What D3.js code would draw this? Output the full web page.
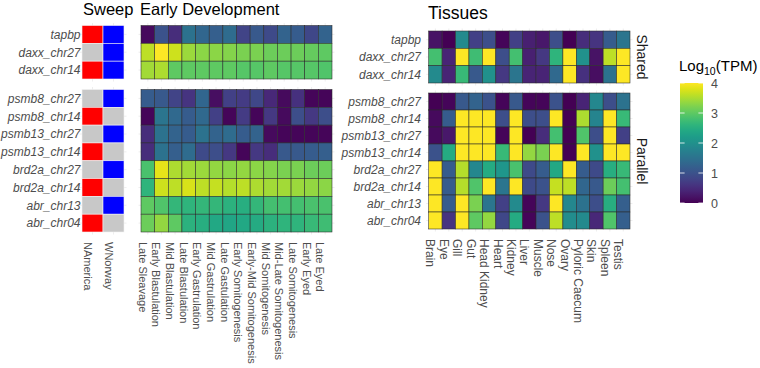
<!DOCTYPE html>
<html>
<head>
<meta charset="utf-8">
<script src="https://cdn.jsdelivr.net/npm/d3@7"></script>
<style>
  html, body { margin: 0; padding: 0; background: #fff; }
  svg { display: block; font-family: "Liberation Sans", Arial, sans-serif; }
</style>
</head>
<body>
<svg id="chart" width="760" height="368"></svg>
<script>
// ---------------- data ----------------
const rowsShared = ["tapbp", "daxx_chr27", "daxx_chr14"];
const rowsParallel = ["psmb8_chr27", "psmb8_chr14", "psmb13_chr27", "psmb13_chr14",
  "brd2a_chr27", "brd2a_chr14", "abr_chr13", "abr_chr04"];
const sweepCols = ["NAmerica", "WNorway"];
// 1 = sweep detected, 0 = none (rows: shared then parallel)
const sweepNAmerica = [1, 0, 1, 0, 1, 0, 1, 0, 1, 0, 1];
const sweepWNorway  = [1, 1, 1, 1, 0, 1, 0, 1, 0, 1, 0];

const devStages = ["Late Sleavage", "Early Blastulation", "Mid Blastulation", "Late Blastulation",
  "Early Gastrulation", "Mid Gastrulation", "Late Gastulation", "Early Somitogenesis",
  "Early-Mid Somitogenesis", "Mid Somitogenesis", "Mid-Late Somitogenesis",
  "Late Somitogenesis", "Early Eyed", "Late Eyed"];
const devTapbp      = [0.1, 1.0, 0.5, 1.5, 1.3, 1.2, 1.4, 0.8, 1.1, 0.9, 1.25, 1.15, 0.85, 1.25];
const devDaxx27     = [3.6, 4.0, 3.7, 3.4, 3.3, 3.3, 3.25, 3.2, 3.2, 3.1, 3.1, 3.1, 3.05, 3.0];
const devDaxx14     = [3.45, 3.5, 3.0, 3.0, 3.0, 3.0, 3.0, 2.95, 2.95, 3.0, 2.95, 2.95, 2.95, 2.9];
const devPsmb8_27   = [1.15, 1.1, 0.8, 0.6, 1.3, 0.15, 0.75, 0.7, 0.85, 0.45, 0.1, 0.55, 0.05, 0.05];
const devPsmb8_14   = [0.05, 1.55, 1.35, 1.15, 1.35, 0.75, 0.05, 0.7, 0.05, 0.65, 0.1, 0.95, 0.65, 0.95];
const devPsmb13_27  = [0.5, 1.5, 1.25, 1.15, 1.5, 1.25, 1.4, 1.15, 1.25, 0.1, 0.05, 0.05, 0.05, 0.05];
const devPsmb13_14  = [0.5, 1.5, 1.2, 1.4, 0.9, 0.95, 0.65, 0.05, 0.65, 0.5, 1.1, 1.1, 1.15, 1.2];
const devBrd2a27    = [2.85, 3.85, 3.5, 3.45, 3.4, 3.35, 3.3, 3.35, 3.3, 3.25, 3.2, 3.2, 3.1, 3.1];
const devBrd2a14    = [2.6, 3.7, 3.6, 3.75, 3.6, 3.65, 3.55, 3.6, 3.5, 3.45, 3.45, 3.4, 3.35, 3.3];
const devAbr13      = [3.0, 2.9, 2.65, 2.6, 2.65, 2.65, 2.55, 2.5, 2.65, 2.8, 2.8, 2.8, 2.85, 2.85];
const devAbr04      = [3.1, 3.35, 3.0, 2.55, 2.5, 2.4, 2.35, 2.4, 2.45, 2.55, 2.6, 2.6, 2.7, 2.75];

const tissues = ["Brain", "Eye", "Gill", "Gut", "Head Kidney", "Heart", "Kidney", "Liver",
  "Muscle", "Nose", "Ovary", "Pyloric Caecum", "Skin", "Spleen", "Testis"];
const tisTapbp     = [0.2, 0.0, 1.9, 0.75, 0.95, 0.05, 0.75, 0.35, 0.25, 0.95, 0.0, 0.5, 0.6, 1.15, 1.55];
const tisDaxx27    = [2.8, 0.4, 4.2, 2.75, 4.2, 0.95, 2.8, 0.35, 0.65, 2.6, 4.2, 2.0, 0.2, 3.6, 4.2];
const tisDaxx14    = [1.9, 0.4, 2.7, 1.1, 2.0, 0.65, 1.55, 0.4, 0.4, 1.35, 4.2, 0.55, 0.15, 1.5, 4.2];
const tisPsmb8_27  = [0.0, 0.05, 1.1, 1.25, 1.0, 0.05, 1.1, 0.05, 0.05, 1.0, 0.0, 0.4, 1.85, 0.95, 1.5];
const tisPsmb8_14  = [0.1, 1.15, 4.2, 4.2, 4.2, 0.95, 4.2, 0.95, 0.95, 4.2, 0.0, 3.5, 1.8, 4.2, 2.7];
const tisPsmb13_27 = [0.1, 0.25, 4.2, 4.2, 4.2, 0.05, 4.2, 0.0, 0.5, 2.8, 0.0, 2.9, 0.95, 4.2, 0.75];
const tisPsmb13_14 = [1.0, 2.45, 4.2, 4.2, 4.2, 2.7, 4.2, 3.35, 3.2, 4.2, 0.0, 4.2, 2.0, 4.2, 4.2];
const tisBrd2a27   = [4.2, 1.15, 3.55, 1.85, 2.45, 2.1, 2.85, 0.9, 1.15, 2.4, 4.2, 1.15, 0.9, 2.5, 2.7];
const tisBrd2a14   = [4.2, 1.15, 3.55, 2.9, 4.2, 1.55, 4.2, 0.9, 1.0, 3.65, 3.6, 1.3, 1.1, 3.1, 2.8];
const tisAbr13     = [4.2, 1.15, 4.2, 3.2, 1.55, 0.75, 1.9, 0.05, 0.65, 4.2, 1.85, 1.5, 0.95, 2.5, 1.2];
const tisAbr04     = [4.2, 0.6, 4.2, 3.0, 3.35, 0.85, 2.45, 0.05, 1.0, 3.6, 1.95, 1.9, 0.45, 2.9, 1.2];

const legendTicks = [0, 1, 2, 3, 4];

// ---------------- build ----------------
const allRows = rowsShared.concat(rowsParallel);
const devRows = [devTapbp, devDaxx27, devDaxx14, devPsmb8_27, devPsmb8_14, devPsmb13_27,
  devPsmb13_14, devBrd2a27, devBrd2a14, devAbr13, devAbr04];
const tisRows = [tisTapbp, tisDaxx27, tisDaxx14, tisPsmb8_27, tisPsmb8_14, tisPsmb13_27,
  tisPsmb13_14, tisBrd2a27, tisBrd2a14, tisAbr13, tisAbr04];
const sweepRows = allRows.map((r, i) => [sweepNAmerica[i], sweepWNorway[i]]);

const svg = d3.select("#chart");
const color = d3.scaleSequential(d3.interpolateViridis).domain([0, 4]).clamp(true);
const axisGrey = "#4d4d4d";
const gridCol = "#e3e3e3";

function panelPair(x0, x1, topY, botY) {
  return {
    x0, x1,
    top: { rows: rowsShared, y0: topY[0], y1: topY[1] },
    bot: { rows: rowsParallel, y0: botY[0], y1: botY[1] }
  };
}

function drawBlock(cfg, cols, matrix, fillFn, stroke, strokeW, labelOffsetY, labelSize) {
  const x = d3.scaleBand().domain(cols).range([cfg.x0, cfg.x1]).padding(0);
  const g = svg.append("g");
  [cfg.top, cfg.bot].forEach((p, pi) => {
    const y = d3.scaleBand().domain(p.rows).range([p.y0, p.y1]).padding(0);
    // faint grid lines (theme_minimal look) peeking beyond the tiles
    g.append("g").selectAll("line.v").data(cols).join("line")
      .attr("x1", d => x(d) + x.bandwidth() / 2).attr("x2", d => x(d) + x.bandwidth() / 2)
      .attr("y1", p.y0 - 2.5).attr("y2", p.y1 + 2.5)
      .attr("stroke", gridCol).attr("stroke-width", 0.6);
    g.append("g").selectAll("line.h").data(p.rows).join("line")
      .attr("y1", d => y(d) + y.bandwidth() / 2).attr("y2", d => y(d) + y.bandwidth() / 2)
      .attr("x1", cfg.x0 - 2.5).attr("x2", cfg.x1 + 2.5)
      .attr("stroke", gridCol).attr("stroke-width", 0.6);
    const offset = pi === 0 ? 0 : rowsShared.length;
    const cells = [];
    p.rows.forEach((r, ri) => {
      cols.forEach((c, ci) => cells.push({ r, c, v: matrix[ri + offset][ci] }));
    });
    g.append("g").selectAll("rect").data(cells).join("rect")
      .attr("x", d => x(d.c)).attr("y", d => y(d.r))
      .attr("width", x.bandwidth()).attr("height", y.bandwidth())
      .attr("fill", d => fillFn(d))
      .attr("stroke", stroke).attr("stroke-width", strokeW);
  });
  // x-axis labels, rotated
  const yLab = cfg.bot.y1 + labelOffsetY;
  g.append("g").selectAll("text").data(cols).join("text")
    .attr("transform", d => `translate(${x(d) + x.bandwidth() / 2 - 9},${yLab}) rotate(90)`)
    .attr("text-anchor", "start")
    .attr("font-size", labelSize).attr("fill", axisGrey)
    .text(d => d);
  return x;
}

function rowLabels(xRight, cfg) {
  [cfg.top, cfg.bot].forEach(p => {
    const y = d3.scaleBand().domain(p.rows).range([p.y0, p.y1]);
    svg.append("g").selectAll("text").data(p.rows).join("text")
      .attr("x", xRight).attr("y", d => y(d) + y.bandwidth() / 2)
      .attr("dy", "0.36em")
      .attr("text-anchor", "end").attr("font-style", "italic")
      .attr("font-size", "12px").attr("fill", axisGrey)
      .text(d => d);
  });
}

// Sweep panel
const sweepCfg = panelPair(82, 124, [25.5, 79], [89.5, 232]);
drawBlock(sweepCfg, sweepCols, sweepRows,
  d => d.v === 1 ? (d.c === "NAmerica" ? "#ff0000" : "#0000ff") : "#c8c8c8",
  "#f2f2f2", 0.6, 10, "11px");
rowLabels(80.5, sweepCfg);

// Early development panel
const devCfg = panelPair(141, 332, [25.5, 79], [89.5, 232]);
drawBlock(devCfg, devStages, devRows, d => color(d.v), "#2b2b2b", 0.55, 10, "11px");

// Tissues panel
const tisCfg = panelPair(428.7, 630, [31, 83], [93, 229]);
drawBlock(tisCfg, tissues, tisRows, d => color(d.v), "#2b2b2b", 0.55, 10, "12px");
rowLabels(421, tisCfg);

// Titles
svg.append("text").attr("x", 83).attr("y", 14.5).attr("font-size", "16.5px")
  .attr("fill", "#000").text("Sweep");
svg.append("text").attr("x", 140).attr("y", 14.5).attr("font-size", "16.5px")
  .attr("fill", "#000").text("Early Development");
svg.append("text").attr("x", 428).attr("y", 18.5).attr("font-size", "17.5px")
  .attr("fill", "#000").text("Tissues");

// Facet strip labels
[["Shared", (tisCfg.top.y0 + tisCfg.top.y1) / 2], ["Parallel", (tisCfg.bot.y0 + tisCfg.bot.y1) / 2]]
  .forEach(([t, yc]) => {
    svg.append("text")
      .attr("transform", `translate(642,${yc}) rotate(90)`)
      .attr("text-anchor", "middle").attr("dy", "0.35em")
      .attr("font-size", "14px").attr("fill", "#1a1a1a").text(t);
  });

// Legend
const leg = svg.append("g");
const legTitle = leg.append("text").attr("x", 679).attr("y", 71)
  .attr("font-size", "15px").attr("fill", "#000");
legTitle.append("tspan").text("Log");
legTitle.append("tspan").attr("font-size", "10.5px").attr("dy", "4").text("10");
legTitle.append("tspan").attr("dy", "-4").text("(TPM)");

const defs = svg.append("defs");
const grad = defs.append("linearGradient").attr("id", "vgrad")
  .attr("x1", "0%").attr("y1", "100%").attr("x2", "0%").attr("y2", "0%");
d3.range(0, 1.0001, 0.05).forEach(t => {
  grad.append("stop").attr("offset", `${t * 100}%`).attr("stop-color", d3.interpolateViridis(t));
});
const barX = 680, barW = 23;
const ly = d3.scaleLinear().domain([0, 4]).range([203, 83]);
leg.append("rect").attr("x", barX).attr("y", ly(4)).attr("width", barW)
  .attr("height", ly(0) - ly(4)).attr("fill", "url(#vgrad)");
leg.append("g").selectAll("line.l").data(legendTicks).join("line")
  .attr("x1", barX).attr("x2", barX + 4.6)
  .attr("y1", d => ly(d)).attr("y2", d => ly(d))
  .attr("stroke", "#fff").attr("stroke-width", 0.8);
leg.append("g").selectAll("line.r").data(legendTicks).join("line")
  .attr("x1", barX + barW - 4.6).attr("x2", barX + barW)
  .attr("y1", d => ly(d)).attr("y2", d => ly(d))
  .attr("stroke", "#fff").attr("stroke-width", 0.8);
leg.append("g").selectAll("text").data(legendTicks).join("text")
  .attr("x", 711).attr("y", d => ly(d)).attr("dy", "0.36em")
  .attr("font-size", "12.5px").attr("fill", axisGrey).text(d => d);
</script>
</body>
</html>
